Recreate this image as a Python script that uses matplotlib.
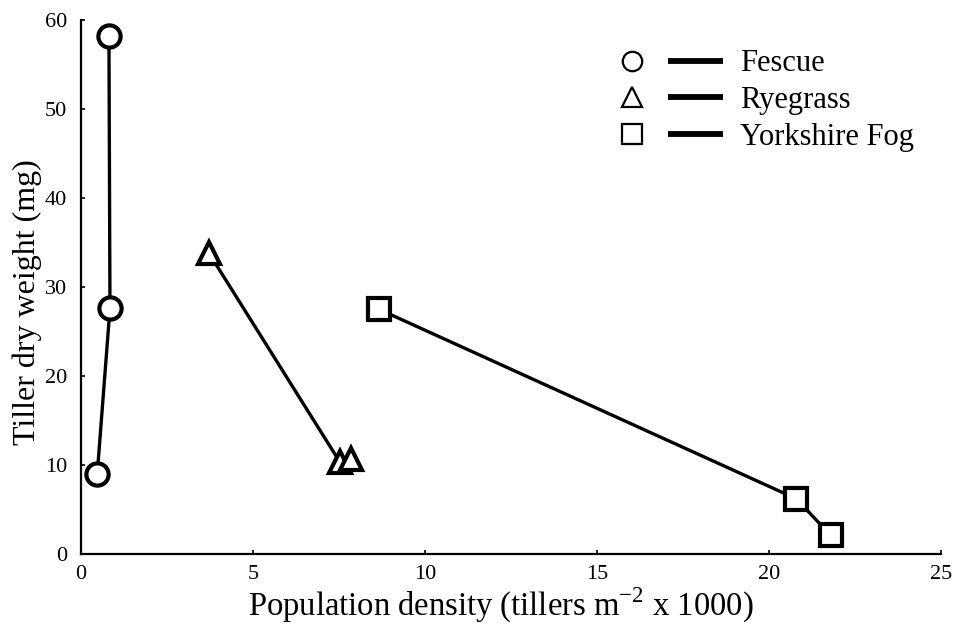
import matplotlib.pyplot as plt
from matplotlib.lines import Line2D

plt.rcParams['font.family'] = ['Liberation Serif', 'DejaVu Serif']
plt.rcParams['mathtext.fontset'] = 'custom'
plt.rcParams['mathtext.rm'] = 'Liberation Serif'

# tiller density (x 1000 per m2) and tiller dry weight (mg)
fescue_x = [0.47, 0.84, 0.81]
fescue_y = [9.0, 27.6, 58.2]
ryegrass_x = [3.72, 7.53, 7.85]
ryegrass_y = [33.8, 10.3, 10.7]
fog_x = [8.66, 20.8, 21.8]
fog_y = [27.5, 6.2, 2.1]

species = ["Fescue", "Ryegrass", "Yorkshire Fog"]
markers = ["o", "^", "s"]


class SymbolDashHandler:
    """Legend entry: open symbol, a gap, then a short thick dash."""

    def legend_artist(self, legend, orig_handle, fontsize, handlebox):
        w, h = handlebox.width, handlebox.height
        yc = h / 2 - handlebox.ydescent
        sym = Line2D([w * 0.12], [yc], ls="none", marker=orig_handle.get_marker(),
                     markersize=14, markerfacecolor="white",
                     markeredgecolor="black", markeredgewidth=1.6)
        seg = Line2D([w * 0.48, w * 1.03], [yc, yc], color="black", lw=4.2,
                     solid_capstyle="butt")
        for a in (sym, seg):
            a.set_transform(handlebox.get_transform())
            handlebox.add_artist(a)
        return seg


fig = plt.figure(figsize=(9.54, 6.28), dpi=100)
ax = fig.add_axes([0.085, 0.118, 0.901, 0.85])

mk = dict(color="black", lw=2.4, markersize=16, markerfacecolor="white",
          markeredgecolor="black", markeredgewidth=3)
ax.plot(fescue_x, fescue_y, marker="o", **mk)
ax.plot(ryegrass_x, ryegrass_y, marker="^", **mk)
ax.plot(fog_x, fog_y, marker="s", **mk)

ax.set_xlim(0, 25)
ax.set_ylim(0, 60)
ax.set_xticks([0, 5, 10, 15, 20, 25])
ax.set_yticks([0, 10, 20, 30, 40, 50, 60])
ax.spines['top'].set_visible(False)
ax.spines['right'].set_visible(False)
ax.spines['left'].set_linewidth(1.6)
ax.spines['bottom'].set_linewidth(1.6)
ax.tick_params(direction='in', length=3, width=1.2, labelsize=16, pad=10)
ax.tick_params(axis='x', pad=8)

ax.set_xlabel("Population density (tillers m$^{-2}$ x 1000)", fontsize=23.5)
ax.set_ylabel("Tiller dry weight (mg)", fontsize=23)
ax.xaxis.set_label_coords(0.488, -0.059)
ax.yaxis.set_label_coords(-0.045, 0.472)

handles = [Line2D([], [], marker=m) for m in markers]
ax.legend(handles, species, handler_map={Line2D: SymbolDashHandler()},
          loc="upper left", bbox_to_anchor=(0.627, 0.945), frameon=False,
          borderpad=0, borderaxespad=0, fontsize=22, handlelength=3.27,
          handletextpad=0.65, labelspacing=0.25)

fig.savefig("out.png", dpi=100)
